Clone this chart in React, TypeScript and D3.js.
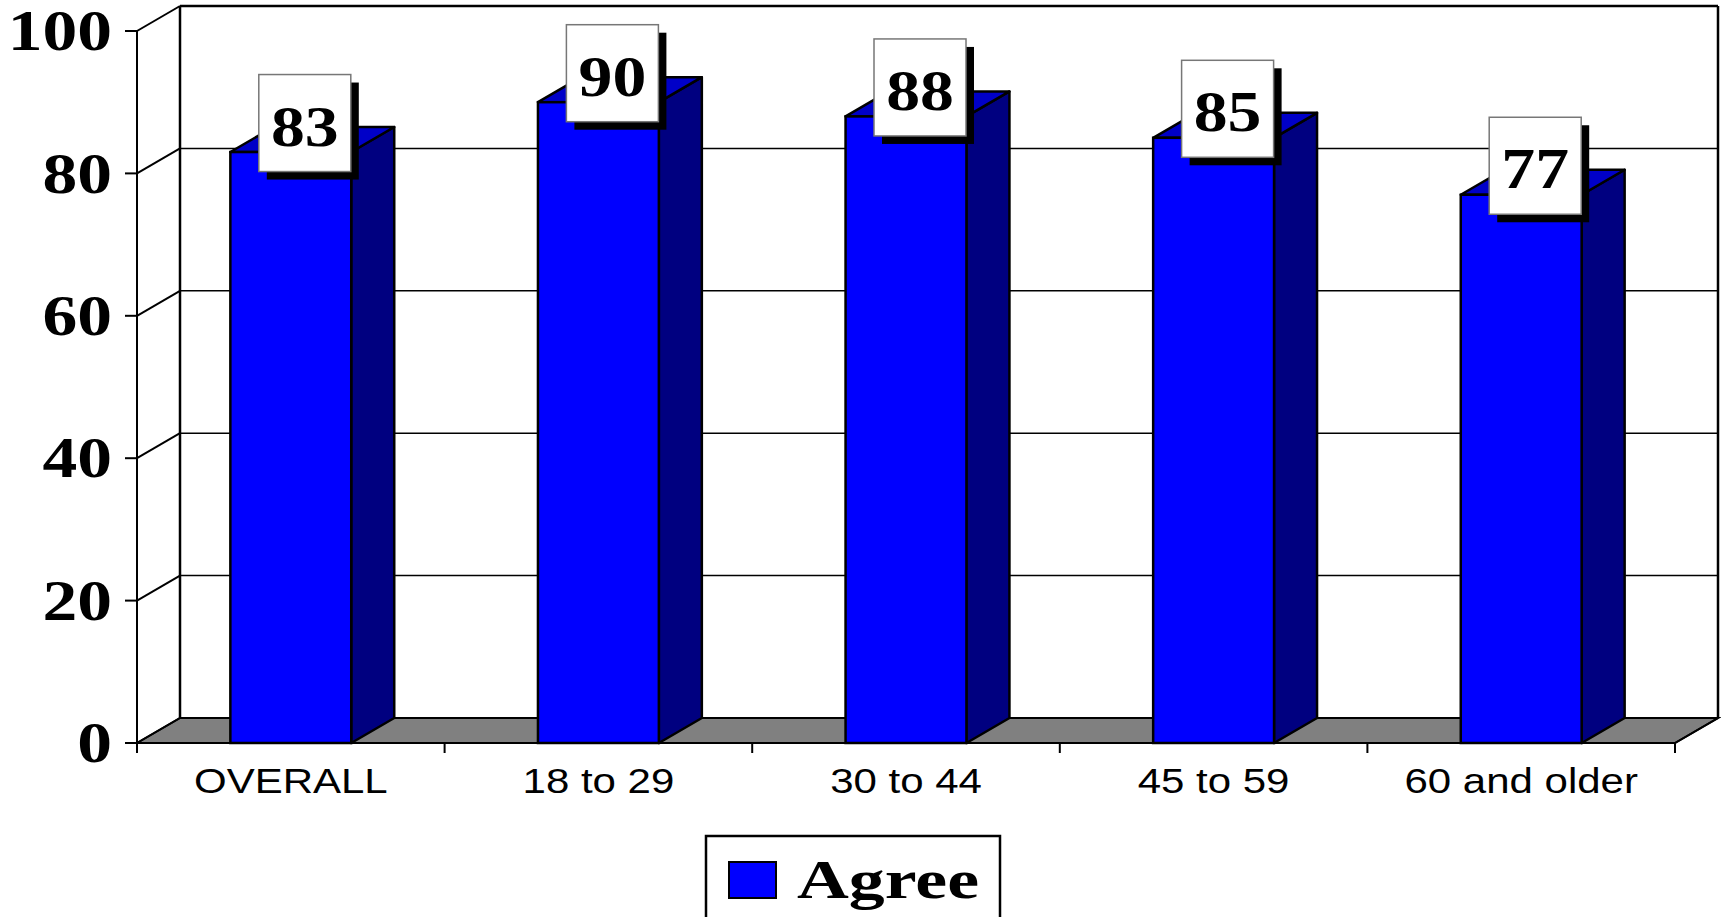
import React from "react";
import * as d3 from "d3";

const categories = ["OVERALL", "18 to 29", "30 to 44", "45 to 59", "60 and older"];
const agreeValues = [83, 90, 88, 85, 77];
const yTicks = [0, 20, 40, 60, 80, 100];
const seriesName = "Agree";

const W = 1721;
const H = 917;
const DX = 43;
const DY = -25;

export default function App() {
  const y = d3.scaleLinear().domain([0, 100]).range([743, 31]);
  const x = d3.scaleBand<string>().domain(categories).range([137, 1675]).padding(0);
  const step = x.bandwidth();
  const barW = step * 0.393;
  const y0 = y(0);
  const xL = x.range()[0];
  const xR = x.range()[1];
  const serif = "'Liberation Serif', 'Times New Roman', serif";
  const sans = "'Liberation Sans', Arial, sans-serif";

  return (
    <svg width={W} height={H} style={{ position: "absolute", left: 0, top: 0, background: "#fff" }}>
      {/* floor */}
      <polygon
        points={`${xL},${y0} ${xR},${y0} ${xR + DX},${y0 + DY} ${xL + DX},${y0 + DY}`}
        fill="#808080"
        stroke="#000"
        strokeWidth={2}
      />
      {/* gridlines */}
      {yTicks.map((t) => (
        <g key={t}>
          <line x1={xL} y1={y(t)} x2={xL + DX} y2={y(t) + DY} stroke="#000" strokeWidth={2} />
          <line x1={xL + DX} y1={y(t) + DY} x2={xR + DX} y2={y(t) + DY} stroke="#000" strokeWidth={t === 100 ? 2.5 : 1.5} />
          <line x1={xL - 12} y1={y(t)} x2={xL} y2={y(t)} stroke="#000" strokeWidth={2} />
          <text
            transform={`translate(${112},${y(t)}) scale(1.22,1)`}
            textAnchor="end"
            dominantBaseline="central"
            fontFamily={serif}
            fontWeight="bold"
            fontSize={57}
            fill="#000"
          >
            {t}
          </text>
        </g>
      ))}
      {/* walls verticals */}
      <line x1={xL + DX} y1={y(100) + DY} x2={xL + DX} y2={y0 + DY} stroke="#000" strokeWidth={2.5} />
      <line x1={xR + DX} y1={y(100) + DY} x2={xR + DX} y2={y0 + DY} stroke="#000" strokeWidth={2.5} />
      {/* front axes */}
      <line x1={xL} y1={y(100)} x2={xL} y2={y0 + 10} stroke="#000" strokeWidth={2} />
      <line x1={xL} y1={y0} x2={xR} y2={y0} stroke="#000" strokeWidth={2} />
      <line x1={xR} y1={y0} x2={xR + DX} y2={y0 + DY} stroke="#000" strokeWidth={2} />
      {d3.range(categories.length + 1).map((i) => (
        <line key={i} x1={xL + i * step} y1={y0} x2={xL + i * step} y2={y0 + 10} stroke="#000" strokeWidth={2} />
      ))}
      {/* bars */}
      {categories.map((c, i) => {
        const v = agreeValues[i];
        const cx = (x(c) as number) + step / 2;
        const l = cx - barW / 2;
        const r = cx + barW / 2;
        const top = y(v);
        return (
          <g key={c}>
            <polygon
              points={`${r},${top} ${r + DX},${top + DY} ${r + DX},${y0 + DY} ${r},${y0}`}
              fill="#000080"
              stroke="#000"
              strokeWidth={2.5}
              strokeLinejoin="round"
            />
            <polygon
              points={`${l},${top} ${l + DX},${top + DY} ${r + DX},${top + DY} ${r},${top}`}
              fill="#0000C8"
              stroke="#000"
              strokeWidth={2.5}
              strokeLinejoin="round"
            />
            <rect x={l} y={top} width={barW} height={y0 - top} fill="#0000FF" stroke="#000" strokeWidth={2.5} />
          </g>
        );
      })}
      {/* data labels */}
      {categories.map((c, i) => {
        const v = agreeValues[i];
        const cx = (x(c) as number) + step / 2 + 14;
        const cy = y(v) - 29;
        const bw = 92;
        const bh = 97;
        return (
          <g key={"lab" + c}>
            <rect x={cx - bw / 2 + 8} y={cy - bh / 2 + 8} width={bw} height={bh} fill="#000" />
            <rect x={cx - bw / 2} y={cy - bh / 2} width={bw} height={bh} fill="#fff" stroke="#777" strokeWidth={1.5} />
            <text
              transform={`translate(${cx},${cy - bh / 2 + 71}) scale(1.21,1)`}
              textAnchor="middle"
              fontFamily={serif}
              fontWeight="bold"
              fontSize={56}
              fill="#000"
            >
              {v}
            </text>
          </g>
        );
      })}
      {/* x labels */}
      {categories.map((c) => (
        <text
          key={"x" + c}
          transform={`translate(${(x(c) as number) + step / 2},${793}) scale(1.2,1)`}
          textAnchor="middle"
          fontFamily={sans}
          fontSize={35}
          fill="#000"
        >
          {c}
        </text>
      ))}
      {/* legend */}
      <rect x={706} y={836} width={294} height={100} fill="#fff" stroke="#000" strokeWidth={2.5} />
      <rect x={729} y={862} width={47} height={36} fill="#0000FF" stroke="#000" strokeWidth={2} />
      <text
        transform={`translate(${797},${898}) scale(1.33,1)`}
        fontFamily={serif}
        fontWeight="bold"
        fontSize={54}
        fill="#000"
      >
        {seriesName}
      </text>
    </svg>
  );
}
